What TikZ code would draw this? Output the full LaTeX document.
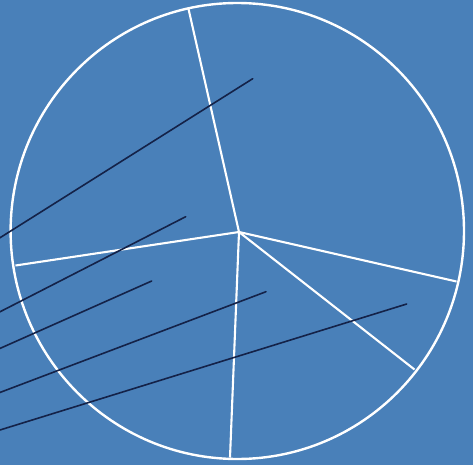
\documentclass[tikz,border=0pt]{standalone}
\usepackage{tikz}
\usetikzlibrary{calc}
\definecolor{bgblue}{RGB}{73,128,185}
\definecolor{inkline}{RGB}{20,34,72}

\begin{document}
\begin{tikzpicture}[x=1pt, y=-1pt,
    rimstyle/.style={draw=white, line width=2.4pt},
    spokestyle/.style={white, line width=2.1pt},
    rodstyle/.style={inkline, line width=1.6pt, line cap=round}]
  \fill[bgblue] (0,0) rectangle (473,465);
  \useasboundingbox (0,0) rectangle (473,465);
  \coordinate (C) at (237.3,231);
  \coordinate (H) at (239,232);
  \draw[rimstyle] (C) circle [x radius=226.7, y radius=228];
  % spokes
  \coordinate (S1) at (188.3,8);
  \coordinate (S2) at (15.5,265.5);
  \coordinate (S3) at (456.5,281.5);
  \coordinate (S4) at (414.5,369.5);
  \coordinate (S5) at (230,457.5);
  \foreach \s in {S1,S2,S3,S4,S5}
    \draw[spokestyle] (H) -- (\s);
  % rods
  \coordinate (A1) at (-2,239); \coordinate (B1) at (252.7,78.7);
  \coordinate (A2) at (-2,312.8); \coordinate (B2) at (185.7,216.7);
  \coordinate (A3) at (-2,349.3); \coordinate (B3) at (151.7,281);
  \coordinate (A4) at (-2,393.2); \coordinate (B4) at (266,291.7);
  \coordinate (A5) at (-2,430.6); \coordinate (B5) at (406.7,304);
  \foreach \i in {1,...,5}
    \draw[rodstyle] (A\i) -- (B\i);
\end{tikzpicture}
\end{document}
